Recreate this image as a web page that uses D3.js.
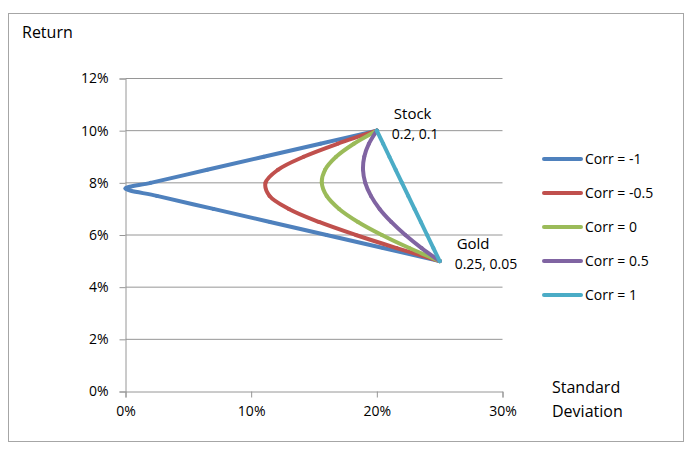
<!DOCTYPE html>
<html><head><meta charset="utf-8">
<script src="https://cdn.jsdelivr.net/npm/d3@7"></script>
<style>body{margin:0;background:#fff}svg{display:block}text{font-family:"Open Sans","Noto Sans",sans-serif;fill:#000}</style>
</head><body><svg id="c" width="698" height="452"></svg>
<script>
// Data: [standard deviation, return] pairs
const corrM1 = [[0.25,0.05],[0.205,0.055],[0.16,0.06],[0.115,0.065],[0.07,0.07],[0.025,0.075],[0,0.0778],[0.02,0.08],[0.065,0.085],[0.11,0.09],[0.155,0.095],[0.2,0.1]];
const corrM05 = [[0.25,0.05],[0.2157,0.055],[0.1833,0.06],[0.154,0.065],[0.13,0.07],[0.1146,0.075],[0.1114,0.08],[0.1213,0.085],[0.1418,0.09],[0.1689,0.095],[0.2,0.1]];
const corr0 = [[0.25,0.05],[0.2259,0.055],[0.204,0.06],[0.185,0.065],[0.17,0.07],[0.1601,0.075],[0.1562,0.08],[0.1588,0.085],[0.1676,0.09],[0.1817,0.095],[0.2,0.1]];
const corrP05 = [[0.25,0.05],[0.2356,0.055],[0.2227,0.06],[0.2115,0.065],[0.2022,0.07],[0.1953,0.075],[0.1908,0.08],[0.189,0.085],[0.19,0.09],[0.1937,0.095],[0.2,0.1]];
const corrP1 = [[0.25,0.05],[0.245,0.055],[0.24,0.06],[0.235,0.065],[0.23,0.07],[0.225,0.075],[0.22,0.08],[0.215,0.085],[0.21,0.09],[0.205,0.095],[0.2,0.1]];
const seriesNames = ["Corr = -1","Corr = -0.5","Corr = 0","Corr = 0.5","Corr = 1"];
const seriesData = [corrM1, corrM05, corr0, corrP05, corrP1];
const colors = ["#4F81BD","#C0504D","#9BBB59","#8064A2","#4BACC6"];
const xTicks = [0,0.1,0.2,0.3];
const yTicks = [0,0.02,0.04,0.06,0.08,0.1,0.12];
const pointLabels = [{name:"Stock", val:"0.2, 0.1", x:0.2, y:0.1},{name:"Gold", val:"0.25, 0.05", x:0.25, y:0.05}];

const svg = d3.select("#c");
svg.append("rect").attr("x",8.5).attr("y",13.5).attr("width",675).attr("height",428)
  .attr("fill","#fff").attr("stroke","#a6a6a6").attr("stroke-width",1);

const x = d3.scaleLinear().domain([0,0.3]).range([125.5,502.5]);
const y = d3.scaleLinear().domain([0,0.12]).range([391.5,78.5]);
const fmt = d3.format(".0%");

// gridlines
svg.append("g").selectAll("line").data(yTicks.filter(d=>d>0)).join("line")
  .attr("x1",x(0)).attr("x2",x(0.3)).attr("y1",d=>y(d)).attr("y2",d=>y(d))
  .attr("stroke","#969696").attr("stroke-width",1);

const gx = svg.append("g").attr("transform",`translate(0,${y(0)})`)
  .call(d3.axisBottom(x).tickValues(xTicks).tickFormat(fmt).tickSize(6).tickPadding(9));
const gy = svg.append("g").attr("transform",`translate(${x(0)},0)`)
  .call(d3.axisLeft(y).tickValues(yTicks).tickFormat(fmt).tickSize(6).tickPadding(11));
[gx,gy].forEach(g=>{
  g.select(".domain").attr("stroke","#969696");
  g.selectAll(".tick line").attr("stroke","#969696");
  g.selectAll(".tick text").style("font-size","14px").attr("fill","#000")
   .style("font-family",'"Open Sans","Noto Sans",sans-serif');
});

const line = d3.line().x(d=>x(d[0])).y(d=>y(d[1])).curve(d3.curveCatmullRom.alpha(0.5));
seriesData.forEach((s,i)=>{
  svg.append("path").datum(s).attr("d",line).attr("fill","none")
    .attr("stroke",colors[i]).attr("stroke-width",4).attr("stroke-linejoin","round").attr("stroke-linecap","round");
  svg.append("g").selectAll("circle").data(s).join("circle")
    .attr("cx",d=>x(d[0])).attr("cy",d=>y(d[1])).attr("r",2).attr("fill",colors[i]);
});

// point labels
pointLabels.forEach(p=>{
  svg.append("text").attr("x",x(p.x)+17).attr("y",y(p.y)-12).style("font-size","15px").text(p.name);
  svg.append("text").attr("x",x(p.x)+15).attr("y",y(p.y)+8).style("font-size","14px").text(p.val);
});

// axis titles
svg.append("text").attr("x",22).attr("y",38).style("font-size","16px").text("Return");
const st = svg.append("text").style("font-size","16px");
st.append("tspan").attr("x",552).attr("y",393).text("Standard");
st.append("tspan").attr("x",552).attr("dy",24).text("Deviation");

// legend
const lg = svg.append("g");
seriesNames.forEach((n,i)=>{
  const yy = 159 + i*34;
  lg.append("line").attr("x1",544).attr("x2",581).attr("y1",yy).attr("y2",yy)
    .attr("stroke",colors[i]).attr("stroke-width",4).attr("stroke-linecap","round");
  lg.append("circle").attr("cx",562).attr("cy",yy).attr("r",2).attr("fill",colors[i]);
  lg.append("text").attr("x",585).attr("y",yy+5).style("font-size","14px").text(n);
});
</script></body></html>
